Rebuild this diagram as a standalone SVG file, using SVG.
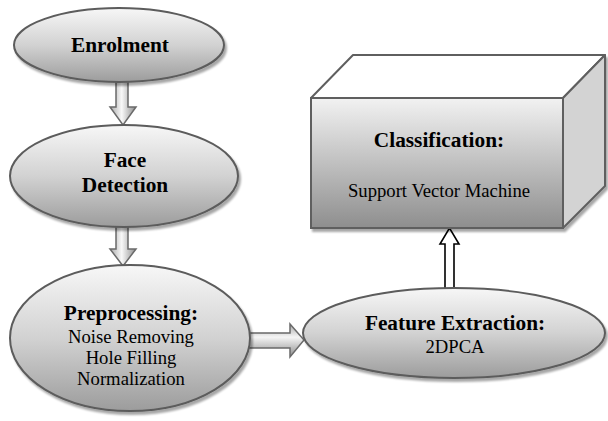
<svg xmlns="http://www.w3.org/2000/svg" width="608" height="421" viewBox="0 0 608 421">
<defs>
<linearGradient id="gEll" x1="0" y1="0" x2="0" y2="1">
<stop offset="0" stop-color="#f7f7f7"/>
<stop offset="0.5" stop-color="#d2d2d2"/>
<stop offset="1" stop-color="#9c9c9c"/>
</linearGradient>
<linearGradient id="gBox" x1="0" y1="0" x2="0" y2="1">
<stop offset="0" stop-color="#f2f2f2"/>
<stop offset="1" stop-color="#8e8e8e"/>
</linearGradient>
<linearGradient id="gDown" x1="0" y1="0" x2="1" y2="0">
<stop offset="0" stop-color="#a8a8a8"/>
<stop offset="0.45" stop-color="#f8f8f8"/>
<stop offset="1" stop-color="#8c8c8c"/>
</linearGradient>
<linearGradient id="gRight" x1="0" y1="0" x2="0" y2="1">
<stop offset="0" stop-color="#a8a8a8"/>
<stop offset="0.4" stop-color="#f5f5f5"/>
<stop offset="1" stop-color="#8c8c8c"/>
</linearGradient>
<filter id="sh" x="-10%" y="-10%" width="125%" height="130%">
<feGaussianBlur in="SourceAlpha" stdDeviation="1.2"/>
<feOffset dx="2" dy="3" result="b"/>
<feComponentTransfer><feFuncA type="linear" slope="0.35"/></feComponentTransfer>
<feMerge><feMergeNode/><feMergeNode in="SourceGraphic"/></feMerge>
</filter>
</defs>
<style>
.ell{fill:url(#gEll);stroke:#5c5c5c;stroke-width:2}
.b{font-family:"Liberation Serif","Times New Roman",serif;font-weight:bold;font-size:21.33px;fill:#000;text-anchor:middle}
.r{font-family:"Liberation Serif","Times New Roman",serif;font-size:18.67px;fill:#000;text-anchor:middle}
.arr{fill:url(#gDown);stroke:#6a6a6a;stroke-width:1.5;stroke-linejoin:miter}
</style>
<g id="connectors">
<path class="arr" d="M116,80 L128,80 L128,107 L136,107 L123,125 L110,107 L116,107 Z"/>
<path class="arr" d="M116,224 L128,224 L128,249 L136,249 L123,266 L110,249 L116,249 Z"/>
<path class="arr" style="fill:url(#gRight)" d="M248,333 L290,333 L290,324 L304,340 L290,357 L290,348 L248,348 Z"/>
<path d="M445,289 L454,289 L454,244 L459,244 L449.5,228 L440,244 L445,244 Z" fill="#fff" stroke="#000" stroke-width="1.6"/>
</g>
<g id="enrolment">
<ellipse class="ell" cx="119" cy="45" rx="105" ry="37" filter="url(#sh)"/>
<text class="b" x="120" y="52">Enrolment</text>
</g>
<g id="face-detection">
<ellipse class="ell" cx="124" cy="176" rx="114" ry="51" filter="url(#sh)"/>
<text class="b" x="125" y="167">Face</text>
<text class="b" x="125" y="192">Detection</text>
</g>
<g id="preprocessing">
<ellipse class="ell" cx="130" cy="338" rx="120" ry="73" filter="url(#sh)"/>
<text class="b" x="131" y="320">Preprocessing:</text>
<text class="r" x="131" y="343">Noise Removing</text>
<text class="r" x="131" y="364">Hole Filling</text>
<text class="r" x="131" y="385">Normalization</text>
</g>
<g id="feature-extraction">
<ellipse class="ell" cx="454" cy="333" rx="151" ry="45" filter="url(#sh)"/>
<text class="b" x="455" y="330">Feature Extraction:</text>
<text class="r" x="455" y="353">2DPCA</text>
</g>
<g id="classification">
<g filter="url(#sh)">
<path d="M311,98 L353,55 L605,55 L563,98 Z" fill="#ffffff" stroke="#5f5f5f" stroke-width="2" stroke-linejoin="round"/>
<path d="M563,98 L605,55 L605,186 L563,228 Z" fill="#d3d3d3" stroke="#5f5f5f" stroke-width="2" stroke-linejoin="round"/>
<rect x="311" y="98" width="252" height="130" fill="url(#gBox)" stroke="#5f5f5f" stroke-width="2"/>
</g>
<text class="b" x="439" y="147">Classification:</text>
<text class="r" x="439" y="197">Support Vector Machine</text>
</g>
</svg>
